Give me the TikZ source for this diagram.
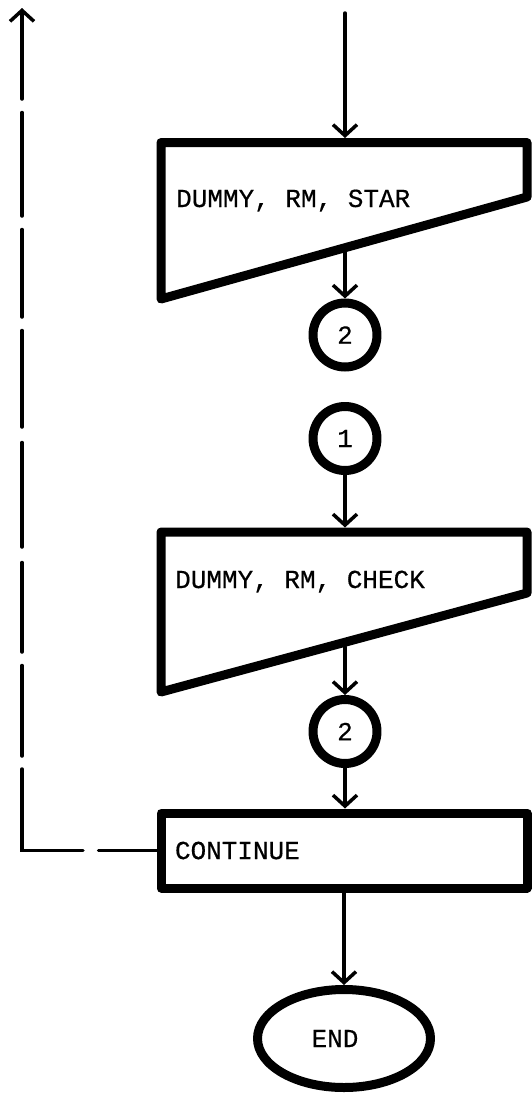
\documentclass[tikz,border=0pt]{standalone}
\usepackage{fontspec}
\setmainfont{Liberation Serif}
\newfontfamily\tw[FakeBold=0.5]{Liberation Mono}
\usetikzlibrary{arrows.meta,shapes.geometric}
\begin{document}
\begin{tikzpicture}[x=1pt,y=-1pt,
  heavy/.style={line width=9pt,line join=round},
  arr/.style={line width=3.5pt,line cap=round,-{Straight Barb[length=11pt,width=24pt]}},
  txtfont/.style={font=\tw\fontsize{26}{30}\selectfont},
  conn/.style={circle,draw,heavy,minimum size=64pt,inner sep=0pt,txtfont},
  lbl/.style={inner sep=0pt,anchor=base west,txtfont},
  procbox/.style={draw,heavy,rectangle,minimum width=366pt,minimum height=75pt,
    text width=338pt,inner xsep=14pt,inner ysep=0pt,align=left,txtfont},
  term/.style={draw,heavy,ellipse,minimum width=173pt,minimum height=98pt,inner sep=0pt,txtfont}
]
\useasboundingbox (0,0) rectangle (531,1093);

% first trapezoid
\draw[heavy] (161,142.5) -- (527,142.5) -- (527,197) -- (161,299) -- cycle;
\node[lbl] (t1txt) at (176,207) {DUMMY, RM, STAR};
\coordinate (t1in) at (345,138);
\coordinate (t1out) at (345,252.4);

% second trapezoid
\draw[heavy] (161,532) -- (527,532) -- (527,593) -- (161,692) -- cycle;
\node[lbl] (t2txt) at (175,588) {DUMMY, RM, CHECK};
\coordinate (t2in) at (345,527.5);
\coordinate (t2out) at (345,646.9);

% connectors (circles)
\node[conn] (c2a) at (345,335) {2};
\node[conn] (c1) at (345,438.5) {1};
\node[conn] (c2b) at (345,731.5) {2};

% continue box
\node[procbox] (cont) at (344,850.5) {CONTINUE};

% end terminal
\node[term] (end) at (344,1038.5) {END\hspace*{18pt}};

\coordinate (entry) at (345,13);
\coordinate (back) at (22,8);

\draw[arr] (entry) -- (t1in);
\draw[arr] (t1out) -- (c2a);
\draw[arr] (c1) -- (t2in);
\draw[arr] (t2out) -- (c2b);
\draw[arr] (c2b) -- (cont.north -| c2b);
\draw[arr] (cont.south -| end) -- (end);

\draw[arr,dash pattern=on 58pt off 15.5pt on 142.5pt off 13pt on 90.5pt off 13.5pt on 89.5pt off 15.5pt on 104.5pt off 15.5pt on 96.5pt off 13.5pt on 87.5pt off 13.5pt on 103.5pt off 13.5pt on 300pt]
  (cont.west) -| (back);
\end{tikzpicture}
\end{document}
